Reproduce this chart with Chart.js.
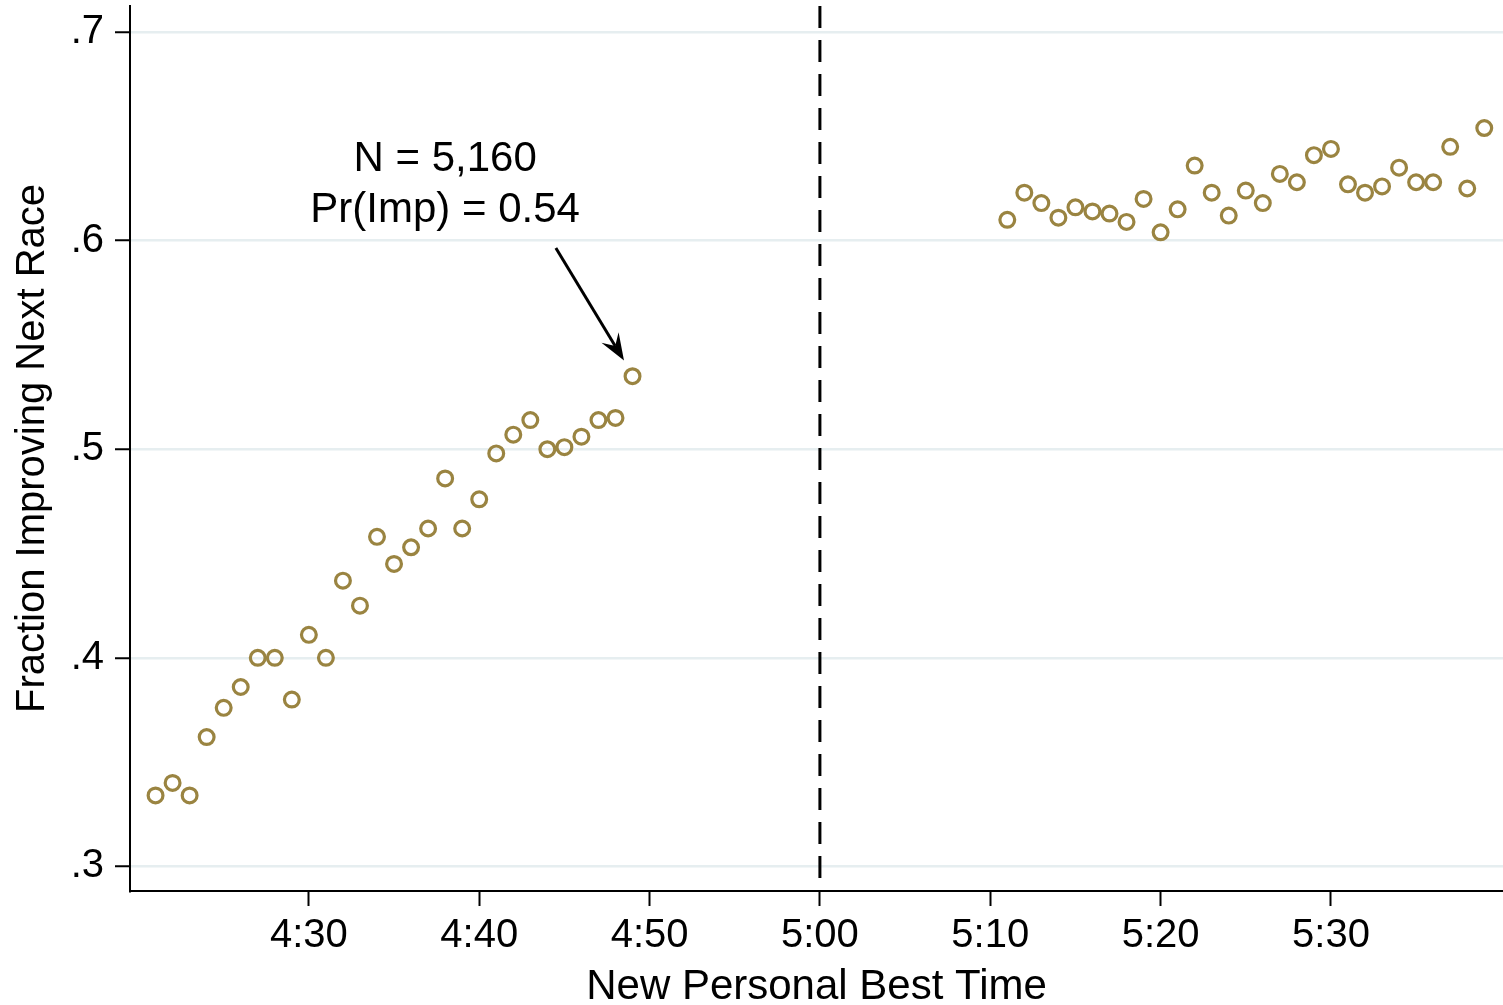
<!DOCTYPE html>
<html>
<head>
<meta charset="utf-8">
<script src="https://cdn.jsdelivr.net/npm/chart.js@4/dist/chart.umd.min.js"></script>
<style>
  html, body { margin: 0; padding: 0; background: #ffffff; }
  #wrap { width: 1503px; height: 1005px; }
</style>
</head>
<body>
<div id="wrap"><canvas id="c" width="1503" height="1005"></canvas></div>
<script>
// ---- data (times in seconds, fraction improving next race) ----
const raceTimes = [
  261, 262, 263, 264, 265, 266, 267, 268, 269, 270,
  271, 272, 273, 274, 275, 276, 277, 278, 279, 280,
  281, 282, 283, 284, 285, 286, 287, 288, 289,
  311, 312, 313, 314, 315, 316, 317, 318, 319, 320,
  321, 322, 323, 324, 325, 326, 327, 328, 329, 330,
  331, 332, 333, 334, 335, 336, 337, 338, 339
];
const fractionImproving = [
  0.334, 0.340, 0.334, 0.362, 0.376, 0.386, 0.400, 0.400, 0.380, 0.411,
  0.400, 0.437, 0.425, 0.458, 0.445, 0.453, 0.462, 0.486, 0.462, 0.476,
  0.498, 0.507, 0.514, 0.500, 0.501, 0.506, 0.514, 0.515, 0.535,
  0.610, 0.623, 0.618, 0.611, 0.616, 0.614, 0.613, 0.609, 0.620, 0.604,
  0.615, 0.636, 0.623, 0.612, 0.624, 0.618, 0.632, 0.628, 0.641, 0.644,
  0.627, 0.623, 0.626, 0.635, 0.628, 0.628, 0.645, 0.625, 0.654
];
const xTickValues = [270, 280, 290, 300, 310, 320, 330];
const xTickLabels = ['4:30', '4:40', '4:50', '5:00', '5:10', '5:20', '5:30'];
const yTickValues = [0.3, 0.4, 0.5, 0.6, 0.7];
const yTickLabels = ['.3', '.4', '.5', '.6', '.7'];
const cutoffTime = 300;
const annotationLines = ['N = 5,160', 'Pr(Imp) = 0.54'];

// ---- styling ----
const FONT = "'Liberation Sans', Arial, Helvetica, sans-serif";
const MARKER = '#9a8441';
const GRID = '#e6eef0';

const points = raceTimes.map((t, i) => ({ x: t, y: fractionImproving[i] }));

const cutoffPlugin = {
  id: 'cutoff',
  beforeDatasetsDraw(chart) {
    const { ctx, chartArea, scales } = chart;
    const x = scales.x.getPixelForValue(cutoffTime);
    ctx.save();
    ctx.strokeStyle = '#000';
    ctx.lineWidth = 3;
    ctx.setLineDash([22, 12]);
    ctx.beginPath();
    ctx.moveTo(x, chartArea.top);
    ctx.lineTo(x, chartArea.bottom);
    ctx.stroke();
    ctx.restore();
  }
};

const annotationPlugin = {
  id: 'noteArrow',
  afterDatasetsDraw(chart, args, opts) {
    const { ctx, scales } = chart;
    const sx = scales.x, sy = scales.y;
    ctx.save();
    ctx.fillStyle = '#000';
    ctx.font = '42px ' + FONT;
    ctx.textAlign = 'center';
    ctx.textBaseline = 'middle';
    const tx = sx.getPixelForValue(opts.textX);
    annotationLines.forEach((s, i) => {
      ctx.fillText(s, tx, sy.getPixelForValue(opts.textY[i]));
    });
    // arrow
    const x1 = sx.getPixelForValue(opts.fromX), y1 = sy.getPixelForValue(opts.fromY);
    const x2 = sx.getPixelForValue(opts.toX), y2 = sy.getPixelForValue(opts.toY);
    const ang = Math.atan2(y2 - y1, x2 - x1);
    const headLen = 27, headHalf = 10, notch = 17;
    ctx.strokeStyle = '#000';
    ctx.lineWidth = 3;
    ctx.beginPath();
    ctx.moveTo(x1, y1);
    ctx.lineTo(x2 - Math.cos(ang) * notch, y2 - Math.sin(ang) * notch);
    ctx.stroke();
    const bx = x2 - Math.cos(ang) * headLen, by = y2 - Math.sin(ang) * headLen;
    const nx = x2 - Math.cos(ang) * notch, ny = y2 - Math.sin(ang) * notch;
    const px = -Math.sin(ang), py = Math.cos(ang);
    ctx.beginPath();
    ctx.moveTo(x2, y2);
    ctx.lineTo(bx + px * headHalf, by + py * headHalf);
    ctx.lineTo(nx, ny);
    ctx.lineTo(bx - px * headHalf, by - py * headHalf);
    ctx.closePath();
    ctx.fill();
    ctx.restore();
  }
};

new Chart(document.getElementById('c'), {
  type: 'scatter',
  data: {
    datasets: [{
      data: points,
      pointStyle: 'circle',
      pointRadius: 7.4,
      pointHoverRadius: 7.4,
      pointBorderWidth: 3.2,
      borderColor: MARKER,
      backgroundColor: 'rgba(0,0,0,0)',
      showLine: false,
      clip: false
    }]
  },
  plugins: [cutoffPlugin, annotationPlugin],
  options: {
    responsive: false,
    animation: false,
    events: [],
    layout: { autoPadding: false, padding: { top: 6, right: 0, bottom: 0, left: 0 } },
    plugins: {
      legend: { display: false },
      tooltip: { enabled: false },
      noteArrow: {
        textX: 278.0,
        textY: [0.6388, 0.6143],
        fromX: 284.5, fromY: 0.5965,
        toX: 288.5, toY: 0.5425
      }
    },
    scales: {
      x: {
        type: 'linear',
        min: 259.5,
        max: 340.1,
        afterBuildTicks(scale) { scale.ticks = xTickValues.map(v => ({ value: v })); },
        afterFit(scale) {
          scale.height = 114;
          scale.paddingLeft = 0;
          scale.paddingRight = 0;
        },
        ticks: {
          autoSkip: false,
          maxRotation: 0,
          color: '#000',
          padding: 6,
          font: { family: FONT, size: 40 },
          callback(value) {
            const i = xTickValues.indexOf(value);
            return i >= 0 ? xTickLabels[i] : '';
          }
        },
        grid: {
          drawOnChartArea: false,
          drawTicks: true,
          tickLength: 15,
          tickColor: '#000',
          tickWidth: 2
        },
        border: { display: true, color: '#000', width: 2 },
        title: {
          display: true,
          text: 'New Personal Best Time',
          color: '#000',
          font: { family: FONT, size: 42, lineHeight: 0.86 },
          padding: { top: 0, bottom: 0 }
        }
      },
      y: {
        type: 'linear',
        min: 0.2882,
        max: 0.7125,
        afterBuildTicks(scale) { scale.ticks = yTickValues.map(v => ({ value: v })); },
        afterFit(scale) {
          scale.width = 130;
          scale.paddingTop = 0;
          scale.paddingBottom = 0;
        },
        ticks: {
          color: '#000',
          padding: 11,
          font: { family: FONT, size: 40 },
          callback(value) {
            const i = yTickValues.findIndex(v => Math.abs(v - value) < 1e-9);
            return i >= 0 ? yTickLabels[i] : '';
          }
        },
        grid: {
          color: GRID,
          lineWidth: 2.5,
          drawTicks: true,
          tickLength: 15,
          tickColor: '#000',
          tickWidth: 2
        },
        border: { display: true, color: '#000', width: 2 },
        title: {
          display: true,
          text: 'Fraction Improving Next Race',
          color: '#000',
          font: { family: FONT, size: 40, lineHeight: 1 },
          padding: { top: 13, bottom: 0 }
        }
      }
    }
  }
});
</script>
</body>
</html>
